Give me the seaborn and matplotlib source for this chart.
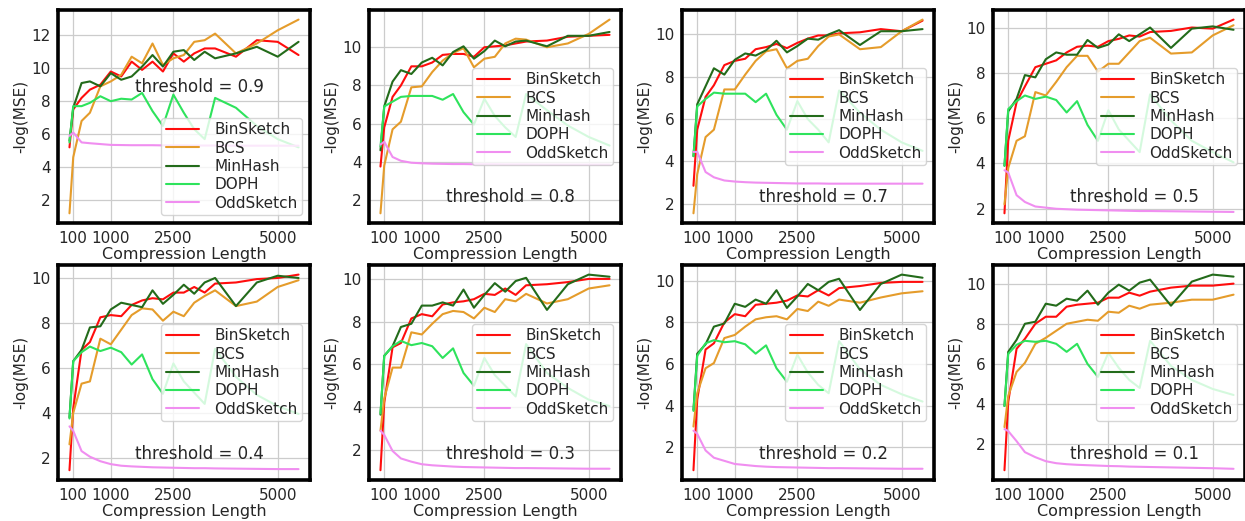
import matplotlib
matplotlib.use("Agg")
import matplotlib.pyplot as plt
from matplotlib.ticker import MultipleLocator
import seaborn as sns

# compression lengths
x_len = [10, 100, 300, 500, 750, 1000, 1250, 1500, 1750, 2000, 2250, 2500,
         2750, 3000, 3250, 3500, 4000, 4500, 5000, 5500]
x_ticks = [100, 1000, 2500, 5000]

methods = ["BinSketch", "BCS", "MinHash", "DOPH", "OddSketch"]
colors = ["#ff0d0d", "#e59c2b", "#236b1a", "#2ee35c", "#f08ef0"]

# threshold = 0.9
bin_09 = [5.2, 7.5, 8.2, 8.7, 9.0, 9.8, 9.5, 10.4, 9.9, 10.4, 9.8, 10.9, 10.4, 10.9, 11.2, 11.2, 10.7, 11.7, 11.6, 10.8]
bcs_09 = [1.2, 4.6, 6.8, 7.3, 8.9, 9.2, 9.6, 10.7, 10.3, 11.5, 10.2, 10.6, 10.8, 11.6, 11.7, 12.1, 10.9, 11.5, 12.3, 12.95]
mh_09 = [5.6, 7.6, 9.1, 9.2, 8.9, 9.7, 9.3, 9.5, 10.1, 10.8, 10.1, 11.0, 11.1, 10.5, 11.0, 10.6, 10.9, 11.3, 10.7, 11.6]
doph_09 = [5.5, 7.7, 7.7, 7.9, 8.3, 8.0, 8.15, 8.1, 8.5, 7.4, 6.5, 8.4, 7.3, 6.3, 5.7, 8.2, 7.6, 6.5, 5.7, 5.2]
odd_09 = [5.9, 6.1, 5.5, 5.45, 5.4, 5.35, 5.34, 5.33, 5.33, 5.33, 5.32, 5.32, 5.32, 5.31, 5.31, 5.31, 5.3, 5.3, 5.3, 5.3]

# threshold = 0.8
bin_08 = [3.75, 5.8, 7.4, 8.0, 9.0, 9.0, 9.2, 9.6, 9.65, 9.65, 9.5, 10.0, 10.05, 10.1, 10.2, 10.3, 10.35, 10.55, 10.6, 10.65]
bcs_08 = [1.3, 3.8, 5.7, 6.1, 7.9, 7.95, 8.7, 9.3, 9.7, 9.95, 8.95, 9.4, 9.5, 10.2, 10.45, 10.4, 10.0, 10.2, 10.7, 11.45]
mh_08 = [4.6, 6.9, 8.2, 8.8, 8.6, 9.2, 9.45, 9.05, 9.75, 10.05, 9.4, 9.8, 10.35, 10.05, 10.3, 10.35, 10.05, 10.6, 10.6, 10.8]
doph_08 = [4.8, 6.9, 7.15, 7.4, 7.45, 7.45, 7.45, 7.25, 7.55, 6.6, 5.95, 7.3, 6.4, 5.8, 5.3, 7.55, 6.7, 5.9, 5.3, 4.85]
odd_08 = [4.9, 5.05, 4.25, 4.05, 3.95, 3.92, 3.9, 3.89, 3.88, 3.88, 3.87, 3.87, 3.87, 3.86, 3.86, 3.86, 3.85, 3.85, 3.85, 3.85]

# threshold = 0.7
bin_07 = [2.85, 5.5, 7.05, 7.6, 8.55, 8.75, 8.85, 9.3, 9.4, 9.55, 9.35, 9.6, 9.8, 9.95, 9.95, 10.05, 10.1, 10.25, 10.15, 10.65]
bcs_07 = [1.55, 3.4, 5.15, 5.5, 7.4, 7.4, 8.1, 8.75, 9.2, 9.3, 8.4, 8.75, 8.85, 9.45, 9.9, 10.0, 9.3, 9.4, 10.15, 10.7]
mh_07 = [4.25, 6.7, 7.55, 8.4, 8.1, 8.8, 9.1, 9.0, 9.25, 9.7, 9.15, 9.45, 9.8, 9.75, 10.0, 10.2, 9.5, 10.15, 10.15, 10.25]
doph_07 = [4.25, 6.6, 6.95, 7.25, 7.2, 7.2, 7.2, 6.8, 7.2, 6.2, 5.5, 6.85, 6.0, 5.5, 4.9, 7.35, 6.3, 5.5, 4.9, 4.5]
odd_07 = [4.45, 4.45, 3.5, 3.25, 3.1, 3.05, 3.02, 3.0, 2.99, 2.98, 2.97, 2.96, 2.96, 2.96, 2.95, 2.95, 2.95, 2.95, 2.95, 2.95]

# threshold = 0.5
bin_05 = [1.8, 5.0, 6.7, 7.4, 8.25, 8.4, 8.55, 8.9, 9.15, 9.2, 9.15, 9.4, 9.5, 9.65, 9.6, 9.8, 9.85, 10.0, 9.95, 10.35]
bcs_05 = [2.2, 3.8, 5.0, 5.2, 7.15, 7.0, 7.6, 8.25, 8.75, 8.75, 8.05, 8.4, 8.4, 8.9, 9.4, 9.55, 8.85, 8.9, 9.65, 10.1]
mh_05 = [3.9, 6.3, 6.85, 7.9, 7.8, 8.6, 8.9, 8.8, 8.8, 9.45, 9.1, 9.25, 9.7, 9.4, 9.7, 10.0, 9.1, 9.95, 10.05, 9.9]
doph_05 = [3.9, 6.4, 6.75, 7.0, 6.85, 6.95, 6.8, 6.25, 6.75, 5.7, 5.0, 6.35, 5.5, 5.0, 4.5, 7.05, 5.9, 5.0, 4.5, 4.05]
odd_05 = [3.7, 3.6, 2.6, 2.3, 2.1, 2.05, 2.0, 1.98, 1.96, 1.95, 1.94, 1.93, 1.92, 1.91, 1.9, 1.9, 1.89, 1.88, 1.87, 1.86]

# threshold = 0.4
bin_04 = [1.45, 4.2, 6.8, 7.15, 8.25, 8.35, 8.3, 8.8, 9.0, 9.1, 9.05, 9.35, 9.35, 9.6, 9.35, 9.75, 9.8, 9.95, 10.0, 10.15]
bcs_04 = [2.6, 4.0, 5.3, 5.4, 7.3, 7.05, 7.7, 8.35, 8.65, 8.6, 8.1, 8.5, 8.3, 8.9, 9.2, 9.45, 8.75, 8.95, 9.6, 9.9]
mh_04 = [3.8, 6.3, 6.8, 7.8, 7.85, 8.6, 8.9, 8.8, 8.7, 9.45, 8.85, 9.25, 9.7, 9.3, 9.8, 10.0, 8.75, 9.8, 10.1, 10.0]
doph_04 = [3.75, 6.3, 6.7, 6.95, 6.75, 6.9, 6.7, 6.15, 6.6, 5.5, 4.85, 6.2, 5.4, 4.9, 4.4, 6.85, 5.6, 4.8, 4.3, 3.95]
odd_04 = [3.4, 3.2, 2.3, 2.05, 1.85, 1.72, 1.65, 1.62, 1.6, 1.58, 1.57, 1.56, 1.55, 1.54, 1.54, 1.53, 1.52, 1.51, 1.5, 1.5]

# threshold = 0.3
bin_03 = [1.05, 4.2, 6.8, 7.0, 8.15, 8.35, 8.25, 8.8, 8.9, 8.95, 9.05, 9.3, 9.25, 9.55, 9.25, 9.7, 9.75, 9.85, 10.0, 10.0]
bcs_03 = [2.9, 4.4, 5.85, 5.85, 7.5, 7.4, 7.9, 8.35, 8.5, 8.45, 8.15, 8.65, 8.45, 9.05, 8.95, 9.3, 8.85, 9.05, 9.55, 9.7]
mh_03 = [3.65, 6.4, 6.85, 7.75, 7.9, 8.75, 8.75, 8.9, 8.75, 9.5, 8.65, 9.25, 9.8, 9.4, 9.9, 10.05, 8.55, 9.75, 10.2, 10.1]
doph_03 = [3.7, 6.4, 6.85, 7.1, 6.9, 7.0, 6.85, 6.3, 6.75, 5.6, 5.0, 6.3, 5.5, 5.0, 4.5, 6.95, 5.6, 4.9, 4.35, 4.05]
odd_03 = [2.9, 2.7, 1.95, 1.6, 1.45, 1.33, 1.28, 1.25, 1.22, 1.2, 1.19, 1.18, 1.17, 1.16, 1.15, 1.15, 1.14, 1.13, 1.12, 1.12]

# threshold = 0.2
bin_02 = [0.9, 4.3, 6.7, 7.0, 8.0, 8.4, 8.3, 8.85, 8.9, 8.95, 9.05, 9.3, 9.25, 9.55, 9.3, 9.65, 9.75, 9.9, 9.95, 9.95]
bcs_02 = [3.0, 4.6, 5.8, 6.05, 7.25, 7.4, 7.8, 8.15, 8.25, 8.3, 8.15, 8.65, 8.55, 9.0, 8.8, 9.1, 8.95, 9.2, 9.4, 9.5]
mh_02 = [3.8, 6.5, 6.95, 7.8, 7.95, 8.9, 8.75, 9.1, 8.9, 9.55, 8.7, 9.25, 9.85, 9.55, 9.95, 10.1, 8.6, 9.85, 10.3, 10.15]
doph_02 = [3.75, 6.4, 7.0, 7.15, 7.05, 7.1, 6.95, 6.5, 6.9, 5.8, 5.15, 6.45, 5.6, 5.0, 4.6, 7.1, 5.75, 5.0, 4.55, 4.2]
odd_02 = [2.8, 2.65, 1.85, 1.5, 1.35, 1.2, 1.15, 1.1, 1.07, 1.05, 1.04, 1.03, 1.02, 1.01, 1.0, 1.0, 0.99, 0.98, 0.97, 0.97]

# threshold = 0.1
bin_01 = [0.7, 4.1, 6.75, 7.25, 8.0, 8.35, 8.35, 8.85, 8.95, 9.0, 9.05, 9.3, 9.3, 9.55, 9.4, 9.6, 9.8, 9.9, 9.9, 10.0]
bcs_01 = [2.85, 4.4, 5.6, 6.05, 7.0, 7.3, 7.65, 8.0, 8.1, 8.2, 8.15, 8.6, 8.55, 8.9, 8.75, 8.95, 9.05, 9.2, 9.2, 9.45]
mh_01 = [3.9, 6.6, 7.2, 8.0, 8.1, 9.0, 8.9, 9.25, 9.15, 9.65, 8.95, 9.55, 9.95, 9.65, 10.05, 10.2, 8.9, 10.1, 10.45, 10.35]
doph_01 = [3.9, 6.5, 6.95, 7.15, 7.1, 7.15, 7.0, 6.6, 7.0, 6.0, 5.35, 6.55, 5.8, 5.2, 4.8, 7.15, 5.9, 5.2, 4.75, 4.45]
odd_01 = [2.75, 2.65, 2.15, 1.6, 1.35, 1.15, 1.05, 1.0, 0.97, 0.95, 0.93, 0.91, 0.9, 0.88, 0.87, 0.86, 0.84, 0.82, 0.8, 0.77]

thresholds = ["0.9", "0.8", "0.7", "0.5", "0.4", "0.3", "0.2", "0.1"]
panels = [
    [bin_09, bcs_09, mh_09, doph_09, odd_09],
    [bin_08, bcs_08, mh_08, doph_08, odd_08],
    [bin_07, bcs_07, mh_07, doph_07, odd_07],
    [bin_05, bcs_05, mh_05, doph_05, odd_05],
    [bin_04, bcs_04, mh_04, doph_04, odd_04],
    [bin_03, bcs_03, mh_03, doph_03, odd_03],
    [bin_02, bcs_02, mh_02, doph_02, odd_02],
    [bin_01, bcs_01, mh_01, doph_01, odd_01],
]

sns.set_style("whitegrid")
plt.rcParams["font.family"] = ["DejaVu Sans"]

fig = plt.figure(figsize=(12.45, 5.21), dpi=100)

lefts = [0.0466, 0.2964, 0.5478, 0.7976]
rows = [(0.572, 0.409), (0.0787, 0.413)]

for i, (thr, series) in enumerate(zip(thresholds, panels)):
    r, c = divmod(i, 4)
    bottom, height = rows[r]
    ax = fig.add_axes([lefts[c], bottom, 0.2024, height])
    for name, col, vals in zip(methods, colors, series):
        sns.lineplot(x=x_len, y=vals, color=col, label=name, ax=ax, linewidth=1.5)
    ax.set_xticks(x_ticks)
    ax.yaxis.set_major_locator(MultipleLocator(2))
    ax.tick_params(labelsize=11, pad=2)
    ax.set_xlabel("Compression Length", fontsize=11.5, labelpad=1)
    ax.set_ylabel("-log(MSE)", fontsize=11, labelpad=2)
    ax.grid(True, color="#cccccc", linewidth=0.9)
    for sp in ax.spines.values():
        sp.set_color("black")
        sp.set_linewidth(2.6)
    loc = "lower right" if i == 0 else "center right"
    ax.legend(loc=loc, fontsize=11, framealpha=0.8, handlelength=2.2,
              labelspacing=0.22, borderpad=0.3, handletextpad=1.0)
    ty = 0.64 if i == 0 else 0.12
    ax.text(0.56, ty, "threshold = " + thr, transform=ax.transAxes,
            ha="center", va="center", fontsize=12, color="#262626")

fig.savefig("out.png", dpi=100)
